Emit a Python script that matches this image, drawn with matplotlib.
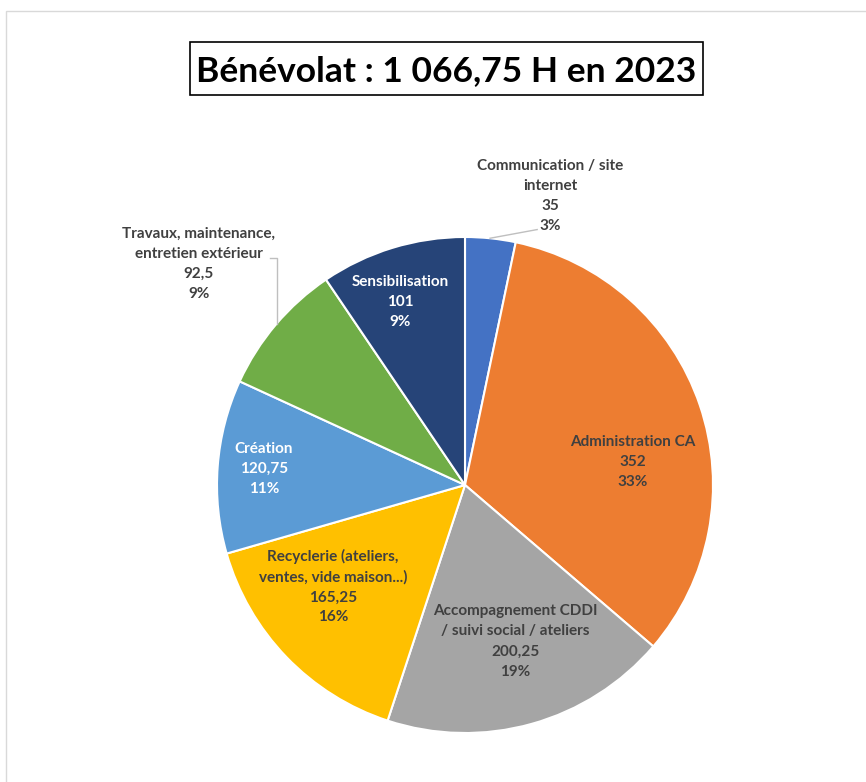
import matplotlib.pyplot as plt
from matplotlib.patches import Rectangle

# data
categories = ['Communication / site\ninternet', 'Administration CA',
              'Accompagnement CDDI\n/ suivi social / ateliers',
              'Recyclerie (ateliers,\nventes, vide maison...)', 'Création',
              'Travaux, maintenance,\nentretien extérieur', 'Sensibilisation']
hours = [35, 352, 200.25, 165.25, 120.75, 92.5, 101]
value_labels = ['35', '352', '200,25', '165,25', '120,75', '92,5', '101']
pct_labels = ['3%', '33%', '19%', '16%', '11%', '9%', '9%']
title = 'Bénévolat : 1 066,75 H en 2023'

colors = ['#4472C4', '#ED7D31', '#A5A5A5', '#FFC000', '#5B9BD5', '#70AD47', '#264478']
text_colors = ['#404040', '#404040', '#404040', '#404040', 'white', '#404040', 'white']
# label centres in pie units (radius = 1)
label_pos = [(0.343, 1.165), (0.677, 0.093), (0.202, -0.631), (-0.532, -0.409),
             (-0.810, 0.065), (-1.073, 0.891), (-0.262, 0.738)]

W, H = 866, 782
fig = plt.figure(figsize=(W / 100, H / 100), dpi=100)
plt.rcParams['font.family'] = ['Lato', 'DejaVu Sans']

# chart border
fig.patches.append(Rectangle((5.5 / W, -0.1), 1.2, 1 - 10.5 / H + 0.1, transform=fig.transFigure,
                             fill=False, edgecolor='#d9d9d9', linewidth=1))

# title in a box
fig.patches.append(Rectangle((190 / W, 1 - 95 / H), 513 / W, 53 / H, transform=fig.transFigure,
                             fill=False, edgecolor='black', linewidth=1.2))
fig.text(446.5 / W, 1 - 71 / H, title, ha='center', va='center', fontsize=25.5,
         fontweight='bold', color='black')

cx, cy, r = 465, 485, 248
ax = fig.add_axes([(cx - r) / W, (H - cy - r) / H, 2 * r / W, 2 * r / H])
wedges, _ = ax.pie(hours, colors=colors, startangle=90, counterclock=False, radius=1,
                   wedgeprops=dict(edgecolor='white', linewidth=1.5))
ax.set_xlim(-1, 1)
ax.set_ylim(-1, 1)
ax.set_aspect('equal')
ax.axis('off')

for i, (x, y) in enumerate(label_pos):
    txt = f'{categories[i]}\n{value_labels[i]}\n{pct_labels[i]}'
    ax.text(x, y, txt, ha='center', va='center', fontsize=11, fontweight='bold',
            color=text_colors[i], linespacing=1.55, clip_on=False)

# leader lines for the outside labels
ax.plot([0.291, 0.101], [1.03, 0.995], color='#bfbfbf', lw=1, clip_on=False)
ax.plot([-0.786, -0.758, -0.758], [0.915, 0.915, 0.65], color='#bfbfbf', lw=1, clip_on=False)

fig.savefig('out.png', dpi=100)
